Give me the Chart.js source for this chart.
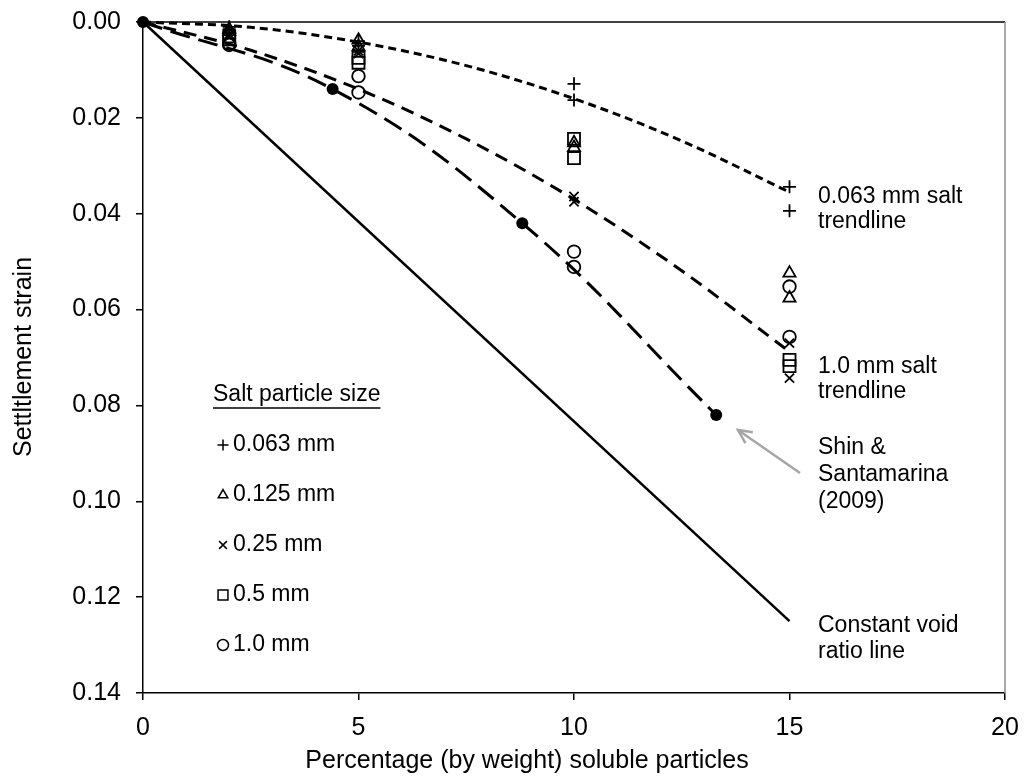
<!DOCTYPE html>
<html>
<head>
<meta charset="utf-8">
<script src="https://cdn.jsdelivr.net/npm/chart.js@4/dist/chart.umd.min.js"></script>
<style>
html,body{margin:0;padding:0;background:#fff;}
#wrap{width:1027px;height:778px;}
</style>
</head>
<body>
<div id="wrap"><canvas id="c" width="1027" height="778"></canvas></div>
<script>
// ---- data ----
const pct = [2, 2, 5, 5, 10, 10, 15, 15];
const s0063 = [0.0010, 0.0015, 0.0040, 0.0050, 0.0129, 0.0163, 0.0344, 0.0394];
const s0125 = [0.0015, 0.0020, 0.0038, 0.0052, 0.0252, 0.0262, 0.0524, 0.0576];
const s025  = [0.0025, 0.0030, 0.0060, 0.0066, 0.0364, 0.0375, 0.0670, 0.0743];
const s05   = [0.0030, 0.0036, 0.0075, 0.0085, 0.0244, 0.0284, 0.0705, 0.0718];
const s10   = [0.0045, 0.0048, 0.0113, 0.0147, 0.0479, 0.0511, 0.0552, 0.0657];

const trendX = [0, 2.5, 5, 7.5, 10, 12.5, 15];
const trend0063 = [0, 0.0011, 0.0042, 0.0091, 0.0160, 0.0248, 0.0355];
const trend10   = [0, 0.0059, 0.0140, 0.0244, 0.0370, 0.0519, 0.0688];

const shinX = [0, 4.4, 8.8, 13.3];
const shinY = [0, 0.014, 0.042, 0.082];

const voidX = [0, 15];
const voidY = [0, 0.125];

const xTicks = [0, 5, 10, 15, 20];
const yTicks = [0, 0.02, 0.04, 0.06, 0.08, 0.10, 0.12, 0.14];

const legendLabels = ['0.063 mm', '0.125 mm', '0.25 mm', '0.5 mm', '1.0 mm'];
const legendStyles = ['cross', 'triangle', 'crossRot', 'rect', 'circle'];

// ---- helpers ----
const pts = (xs, ys) => xs.map((x, i) => ({x: x, y: ys[i]}));
const FONT = '"Liberation Sans", Arial, sans-serif';

function markerSet(label, ys, style, radius) {
  return {
    label: label, data: pts(pct, ys), showLine: false,
    pointStyle: style, pointRadius: radius, pointHoverRadius: radius,
    pointBorderColor: '#000', pointBackgroundColor: 'rgba(0,0,0,0)',
    pointBorderWidth: 1.8, clip: false
  };
}

const annot = {
  id: 'annot',
  afterDraw(chart) {
    const ctx = chart.ctx;
    const area = chart.chartArea;
    ctx.save();
    // frame top and right
    ctx.strokeStyle = '#000'; ctx.lineWidth = 1.5;
    ctx.beginPath(); ctx.moveTo(area.left, area.top); ctx.lineTo(area.right, area.top); ctx.stroke();
    ctx.strokeStyle = '#8c8c8c';
    ctx.beginPath(); ctx.moveTo(area.right, area.top); ctx.lineTo(area.right, area.bottom); ctx.stroke();

    ctx.fillStyle = '#000';
    ctx.textBaseline = 'middle';
    ctx.textAlign = 'left';
    ctx.font = '23px ' + FONT;
    const tx = area.left + 675;
    const lines = [
      ['0.063 mm salt', 197], ['trendline', 222],
      ['1.0 mm salt', 367], ['trendline', 392],
      ['Shin &', 448], ['Santamarina', 475], ['(2009)', 502],
      ['Constant void', 626], ['ratio line', 652]
    ];
    lines.forEach(l => ctx.fillText(l[0], tx, l[1]));

    // legend
    const lx = area.left + 70;
    ctx.fillText('Salt particle size', lx, 395);
    const w = ctx.measureText('Salt particle size').width;
    ctx.lineWidth = 1.5; ctx.strokeStyle = '#000';
    ctx.beginPath(); ctx.moveTo(lx, 408); ctx.lineTo(lx + w, 408); ctx.stroke();
    legendLabels.forEach((lab, i) => {
      const yy = 445 + i * 50;
      ctx.save();
      ctx.fillStyle = 'rgba(0,0,0,0)';
      ctx.strokeStyle = '#000';
      ctx.lineWidth = 1.5;
      Chart.helpers.drawPoint(ctx, {pointStyle: legendStyles[i], radius: legendStyles[i] === 'rect' ? 7 : 5.5, rotation: 0, borderWidth: 1.5}, lx + 10, yy);
      ctx.restore();
      ctx.fillText(lab, lx + 20, yy);
    });

    // arrow
    ctx.strokeStyle = '#a6a6a6'; ctx.lineWidth = 2.5;
    const ax1 = 800, ay1 = 473, ax2 = 738, ay2 = 430;
    ctx.beginPath(); ctx.moveTo(ax1, ay1); ctx.lineTo(ax2, ay2); ctx.stroke();
    const ang = Math.atan2(ay2 - ay1, ax2 - ax1);
    const hl = 15;
    ctx.beginPath();
    ctx.moveTo(ax2 - hl * Math.cos(ang - 0.45), ay2 - hl * Math.sin(ang - 0.45));
    ctx.lineTo(ax2, ay2);
    ctx.lineTo(ax2 - hl * Math.cos(ang + 0.45), ay2 - hl * Math.sin(ang + 0.45));
    ctx.stroke();

    // axis titles
    ctx.fillStyle = '#000';
    ctx.font = '25px ' + FONT;
    ctx.textAlign = 'center';
    ctx.fillText('Percentage (by weight) soluble particles', 527, 761);
    ctx.save();
    ctx.translate(24, 357);
    ctx.rotate(-Math.PI / 2);
    ctx.fillText('Settltlement strain', 0, 0);
    ctx.restore();
    ctx.restore();
  }
};

const ctx = document.getElementById('c').getContext('2d');
new Chart(ctx, {
  type: 'scatter',
  data: {
    datasets: [
      markerSet('0.063 mm', s0063, 'cross', 6.5),
      markerSet('0.125 mm', s0125, 'triangle', 7),
      markerSet('0.25 mm', s025, 'crossRot', 6.5),
      markerSet('0.5 mm', s05, 'rect', 8.5),
      markerSet('1.0 mm', s10, 'circle', 6.3),
      {
        label: 'Shin & Santamarina (2009)', data: pts(shinX, shinY), showLine: true,
        borderColor: '#000', borderWidth: 3, borderDash: [20, 9], tension: 0.4,
        pointRadius: 6, pointBorderWidth: 0, pointBackgroundColor: '#000', pointBorderColor: '#000', clip: false
      },
      {
        label: '1.0 mm salt trendline', data: pts(trendX, trend10), showLine: true,
        borderColor: '#000', borderWidth: 3, borderDash: [13, 8],
        cubicInterpolationMode: 'monotone', pointRadius: 0, clip: false
      },
      {
        label: '0.063 mm salt trendline', data: pts(trendX, trend0063), showLine: true,
        borderColor: '#000', borderWidth: 3, borderDash: [8, 5],
        cubicInterpolationMode: 'monotone', pointRadius: 0, clip: false
      },
      {
        label: 'Constant void ratio line', data: pts(voidX, voidY), showLine: true,
        borderColor: '#000', borderWidth: 2.5, pointRadius: 0, clip: false
      }
    ]
  },
  options: {
    responsive: false,
    animation: false,
    events: [],
    layout: {padding: {top: 22, right: 22, left: 0, bottom: 0}},
    plugins: {legend: {display: false}, tooltip: {enabled: false}, title: {display: false}},
    scales: {
      x: {
        type: 'linear', min: 0, max: 20,
        afterBuildTicks: s => { s.ticks = xTicks.map(v => ({value: v})); },
        afterFit: s => { s.height = 85; s.paddingLeft = 0; s.paddingRight = 0; },
        ticks: {color: '#000', font: {family: FONT, size: 25}, padding: 13, maxRotation: 0},
        grid: {drawOnChartArea: false, drawTicks: true, tickLength: 7, color: '#000', lineWidth: 1.5},
        border: {display: true, color: '#000', width: 1.5}
      },
      y: {
        type: 'linear', min: 0, max: 0.14, reverse: true,
        afterBuildTicks: s => { s.ticks = yTicks.map(v => ({value: v})); },
        afterFit: s => { s.width = 143; s.paddingTop = 0; s.paddingBottom = 0; },
        ticks: {color: '#000', font: {family: FONT, size: 25}, padding: 15,
                callback: v => Number(v).toFixed(2)},
        grid: {drawOnChartArea: false, drawTicks: true, tickLength: 7, color: '#000', lineWidth: 1.5},
        border: {display: true, color: '#000', width: 1.5}
      }
    }
  },
  plugins: [annot]
});
</script>
</body>
</html>
